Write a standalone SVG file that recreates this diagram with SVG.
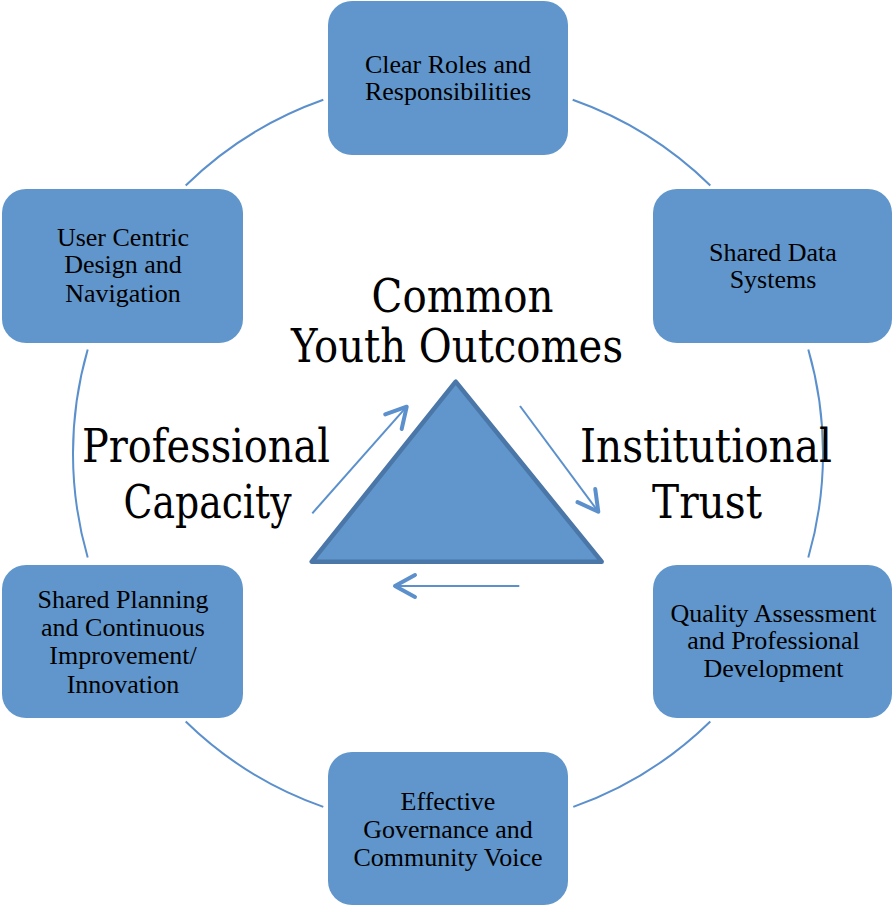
<svg xmlns="http://www.w3.org/2000/svg" width="892" height="906" viewBox="0 0 892 906">
<defs>
<style>
.box{fill:#6096CB;}
.bt{font-family:"Liberation Serif","Times New Roman",serif;font-size:26px;fill:#000;text-anchor:middle;}
.big{font-family:"DejaVu Serif","Liberation Serif",serif;font-size:46px;fill:#000;text-anchor:middle;}
.arc{fill:none;stroke:#5B90CC;stroke-width:2;}
.arr{fill:none;stroke:#5B90CC;stroke-width:2;marker-end:url(#head);}
</style>
<marker id="head" markerUnits="userSpaceOnUse" viewBox="-26 -16 30 32" refX="0" refY="0" markerWidth="30" markerHeight="32" orient="auto">
<path d="M-20,-11 L0,0 L-20,11" fill="none" stroke="#5B90CC" stroke-width="4" stroke-linecap="round" stroke-linejoin="round"/>
</marker>
</defs>
<rect width="892" height="906" fill="#fff"/>
<g id="connectors">
<path class="arc" d="M323.3,99.8 A375,375 0 0 0 185.7,185.5"/>
<path class="arc" d="M572.7,99.8 A375,375 0 0 1 710.3,185.5"/>
<path class="arc" d="M808.3,349.5 A375,375 0 0 1 808.3,557.5"/>
<path class="arc" d="M710.3,721.5 A375,375 0 0 1 573.3,806.9"/>
<path class="arc" d="M323.3,806.9 A375,375 0 0 1 185.7,721.5"/>
<path class="arc" d="M87.7,557.5 A375,375 0 0 1 87.7,349.5"/>
<line class="arr" x1="312.3" y1="513.3" x2="406.7" y2="406.7"/>
<line class="arr" x1="520" y1="406" x2="598.3" y2="511.7"/>
<line class="arr" x1="519.3" y1="586" x2="395" y2="586"/>
</g>
<g id="triangle">
<polygon points="455.7,381.7 311.7,561.7 601.7,561.7" fill="#6096CB" stroke="#4A76A8" stroke-width="4.5" stroke-linejoin="round"/>
</g>
<g id="center-title">
<text class="big" x="462.5" y="311.7" textLength="182" lengthAdjust="spacingAndGlyphs">Common</text>
<text class="big" x="457" y="361.7" textLength="332" lengthAdjust="spacingAndGlyphs">Youth Outcomes</text>
</g>
<g id="professional-capacity">
<text class="big" x="206" y="461.7" textLength="248" lengthAdjust="spacingAndGlyphs">Professional</text>
<text class="big" x="207.5" y="518.3" textLength="168" lengthAdjust="spacingAndGlyphs">Capacity</text>
</g>
<g id="institutional-trust">
<text class="big" x="706" y="462" textLength="252" lengthAdjust="spacingAndGlyphs">Institutional</text>
<text class="big" x="707" y="518" textLength="110" lengthAdjust="spacingAndGlyphs">Trust</text>
</g>
<g id="clear-roles">
<rect class="box" x="328" y="1" width="240" height="154" rx="24"/>
<text class="bt" x="448" y="73">Clear Roles and</text>
<text class="bt" x="448" y="99.5">Responsibilities</text>
</g>
<g id="shared-data">
<rect class="box" x="653" y="189" width="239" height="154" rx="24"/>
<text class="bt" x="773" y="261">Shared Data</text>
<text class="bt" x="773" y="288">Systems</text>
</g>
<g id="quality-assessment">
<rect class="box" x="653" y="565" width="239" height="153" rx="24"/>
<text class="bt" x="773.5" y="621.5">Quality Assessment</text>
<text class="bt" x="773.5" y="649">and Professional</text>
<text class="bt" x="773.5" y="677">Development</text>
</g>
<g id="effective-governance">
<rect class="box" x="328" y="752" width="240" height="153" rx="24"/>
<text class="bt" x="448" y="810">Effective</text>
<text class="bt" x="448" y="837.5">Governance and</text>
<text class="bt" x="448" y="865.5">Community Voice</text>
</g>
<g id="shared-planning">
<rect class="box" x="2" y="565" width="241" height="153" rx="24"/>
<text class="bt" x="123" y="608">Shared Planning</text>
<text class="bt" x="123" y="635.5">and Continuous</text>
<text class="bt" x="123" y="664">Improvement/</text>
<text class="bt" x="123" y="693">Innovation</text>
</g>
<g id="user-centric">
<rect class="box" x="2" y="189" width="241" height="154" rx="24"/>
<text class="bt" x="123" y="246">User Centric</text>
<text class="bt" x="123" y="273">Design and</text>
<text class="bt" x="123" y="302">Navigation</text>
</g>
</svg>
